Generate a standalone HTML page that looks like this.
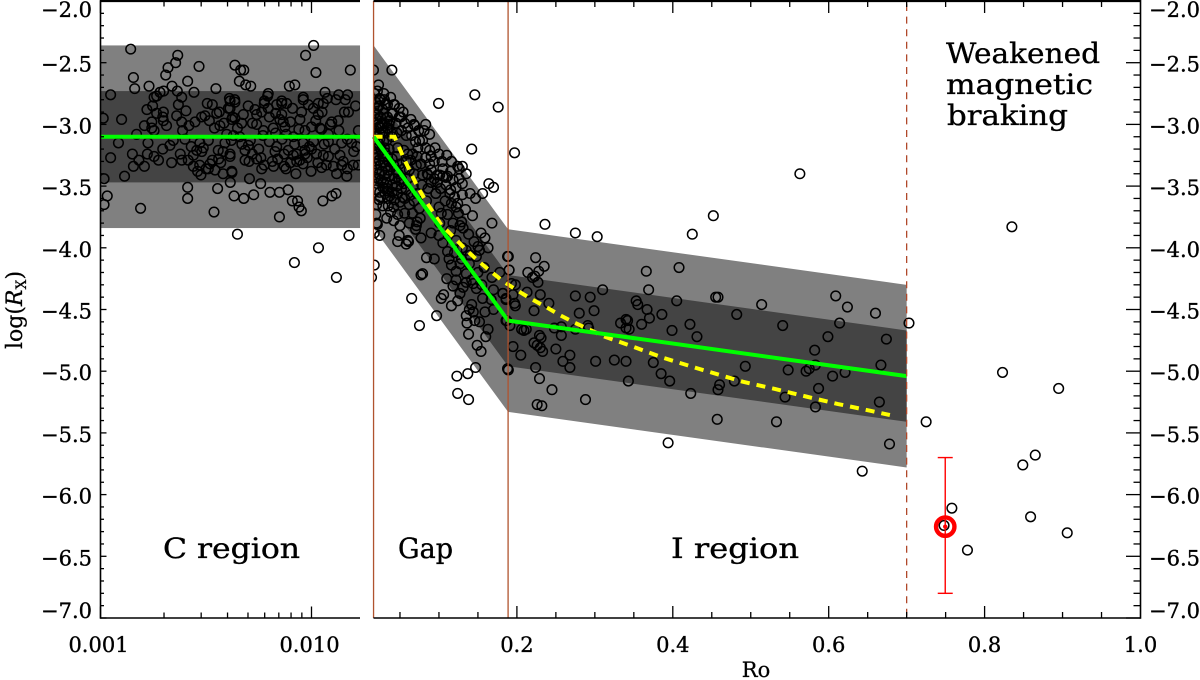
<!DOCTYPE html>
<html lang="en">
<head>
<meta charset="utf-8">
<title>log(Rx) versus Ro</title>
<style>
html,body{margin:0;padding:0;background:#fff;}
svg{display:block;}
text{font-family:"DejaVu Serif","Liberation Serif",serif;fill:#000;}
.tick{font-size:21px;stroke:#000;stroke-width:.35px;}
.note{font-size:28px;stroke:#000;stroke-width:.35px;}
</style>
</head>
<body>
<svg id="chart" xmlns="http://www.w3.org/2000/svg" width="1200" height="680" viewBox="0 0 1200 680">
  <defs>
    <clipPath id="clip-c"><rect x="100.5" y="0" width="259.5" height="618"/></clipPath>
    <clipPath id="clip-r"><rect x="373.5" y="0" width="767" height="618"/></clipPath>
  </defs>
  <g id="bands"></g>
  <g id="points-c" clip-path="url(#clip-c)"></g>
  <g id="points-r" clip-path="url(#clip-r)"></g>
  <g id="lines"></g>
  <g id="axes"></g>
  <g id="highlight"></g>
  <text class="note" x="163" y="558" textLength="137" lengthAdjust="spacingAndGlyphs">C region</text>
  <text class="note" x="398" y="558" textLength="55" lengthAdjust="spacingAndGlyphs">Gap</text>
  <text class="note" x="671" y="558" textLength="128" lengthAdjust="spacingAndGlyphs">I region</text>
  <text class="note" x="946" y="63" textLength="154" lengthAdjust="spacingAndGlyphs">Weakened</text>
  <text class="note" x="946" y="94" textLength="147" lengthAdjust="spacingAndGlyphs">magnetic</text>
  <text class="note" x="947" y="125" textLength="121" lengthAdjust="spacingAndGlyphs">braking</text>
  <text x="756" y="677" text-anchor="middle" font-size="21" stroke="#000" stroke-width=".25">Ro</text>
  <text transform="translate(22,310) rotate(-90)" text-anchor="middle" font-size="22" stroke="#000" stroke-width=".25">log(<tspan font-style="italic">R</tspan><tspan font-size="14" dy="4">X</tspan><tspan dy="-4">)</tspan></text>
</svg>
<script>
// Values. C region: [log10(Ro), log(Rx)]
const cRegionPoints = [
[-2.857,-2.39],[-2.634,-2.44],[-2.644,-2.50],[-2.68,-2.54],[-2.691,-2.60],[-2.844,-2.62],[-2.838,-2.71],[-2.77,-2.69],[-2.587,-2.65],[-2.533,-2.53],
[-2.363,-2.52],[-2.336,-2.56],[-2.321,-2.56],[-2.342,-2.65],[-2.312,-2.68],[-2.288,-2.69],[-2.453,-2.71],[-2.557,-2.74],[-2.661,-2.69],[-2.701,-2.73],
[-2.718,-2.74],[-2.734,-2.77],[-2.746,-2.78],[-2.636,-2.73],[-2.615,-2.78],[-2.952,-2.76],[-2.105,-2.69],[-2.079,-2.68],[-2.028,-2.44],[-1.99,-2.36],
[-1.979,-2.58],[-1.816,-2.56],[-1.936,-2.74],[-1.871,-2.76],[-1.829,-2.76],[-2.205,-2.75],[-2.223,-2.81],[-2.389,-2.79],[-2.364,-2.80],[-2.494,-2.83],
[-2.039,-2.78],[-2.141,-2.81],[-2.351,-3.89],[-1.967,-4.00],[-2.081,-4.12],[-1.822,-3.90],[-1.882,-4.24],[-2.81,-3.68],[-2.983,-3.65],[-2.968,-3.58],
[-2.462,-3.71],[-2.152,-3.75],[-2.587,-3.51],[-2.587,-3.60],[-2.445,-3.52],[-2.367,-3.58],[-2.321,-3.60],[-2.274,-3.57],[-2.241,-3.48],[-2.197,-3.55],
[-2.152,-3.55],[-2.111,-3.53],[-2.091,-3.62],[-2.066,-3.62],[-2.059,-3.67],[-2.048,-3.70],[-1.946,-3.62],[-1.903,-3.58],[-1.884,-3.56],[-2.385,-3.47],
[-2.294,-3.44],[-2.886,-3.42],[-2.983,-3.44],[-1.833,-3.42],[-2.002,-3.38],[-2.074,-3.40],[-1.952,-3.35],[-2.377,-3.39],[-2.419,-3.40],[-2.987,-2.95],
[-2.9,-2.96],[-2.915,-3.15],[-2.952,-3.27],[-2.849,-3.24],[-2.844,-3.34],[-2.818,-3.29],[-2.792,-3.34],[-2.78,-2.88],[-2.753,-2.85],[-2.734,-2.91],
[-2.702,-2.90],[-2.705,-2.94],[-2.702,-2.97],[-2.687,-3.01],[-2.792,-3.01],[-2.829,-3.08],[-2.757,-2.98],[-2.757,-3.03],[-2.746,-3.05],[-2.775,-3.15],
[-2.778,-3.24],[-2.746,-3.26],[-2.725,-3.29],[-2.705,-3.20],[-2.671,-3.17],[-2.655,-3.13],[-2.631,-2.84],[-2.639,-2.93],[-2.595,-2.89],[-2.615,-2.98],
[-2.581,-3.01],[-2.552,-2.98],[-2.611,-3.05],[-2.521,-2.94],[-2.505,-2.93],[-2.484,-2.97],[-2.449,-2.91],[-2.437,-2.90],[-2.434,-3.01],[-2.394,-2.87],
[-2.415,-2.99],[-2.374,-2.94],[-2.402,-3.08],[-2.37,-3.09],[-2.351,-3.03],[-2.529,-3.15],[-2.489,-3.13],[-2.513,-3.19],[-2.544,-3.21],[-2.52,-3.22],
[-2.622,-3.24],[-2.615,-3.29],[-2.663,-3.31],[-2.584,-3.29],[-2.56,-3.34],[-2.524,-3.41],[-2.489,-3.36],[-2.481,-3.32],[-2.457,-3.37],[-2.442,-3.21],
[-2.419,-3.22],[-2.386,-3.24],[-2.5,-3.36],[-2.53,-3.33],[-2.54,-3.38],[-2.47,-3.29],[-2.43,-3.31],[-2.41,-3.15],
[-2.208,-2.77],[-2.224,-2.83],[-2.165,-2.84],[-2.141,-2.83],[-2.118,-2.83],[-2.205,-2.87],[-2.236,-2.90],[-2.268,-2.88],[-2.386,-2.81],[-2.363,-2.82],
[-2.386,-2.87],[-2.323,-2.92],[-2.363,-2.95],[-2.378,-2.96],[-2.331,-2.99],[-2.141,-2.92],[-2.134,-2.98],[-2.126,-3.02],[-2.039,-2.80],[-2.015,-2.84],
[-2.047,-2.90],[-2.055,-2.96],[-1.968,-2.83],[-1.944,-2.83],[-1.991,-2.87],[-1.968,-2.92],[-1.925,-2.79],[-1.884,-2.8],[-1.84,-2.8],[-1.791,-2.85],
[-1.844,-2.90],[-1.825,-2.90],[-1.904,-2.98],[-1.873,-2.97],[-1.87,-3.05],[-1.952,-3.04],[-2.031,-3.05],[-1.778,-3.05],[-2.26,-3.00],[-2.228,-3.05],
[-2.181,-3.03],[-2.086,-3.10],[-1.92,-3.14],[-1.857,-3.15],[-1.81,-3.15],[-1.786,-3.18],[-2.386,-3.26],[-2.299,-3.17],[-2.315,-3.21],[-2.315,-3.29],
[-2.296,-3.30],[-2.378,-3.38],[-2.236,-3.36],[-2.224,-3.33],[-2.186,-3.30],[-2.173,-3.22],[-2.165,-3.18],[-2.129,-3.34],[-2.121,-3.36],[-2.031,-3.24],
[-2.055,-3.29],[-2.11,-3.21],[-2.086,-3.25],[-2.07,-3.24],[-2.031,-3.21],[-1.976,-3.24],[-1.944,-3.25],[-1.92,-3.26],[-1.865,-3.25],[-1.802,-3.33],
[-1.857,-3.33],[-1.778,-3.33],[-1.881,-3.40],[-1.897,-3.34],[-2.0,-3.20],[-2.02,-3.27],[-2.08,-3.16],[-2.14,-3.12],[-2.2,-3.14],[-2.25,-3.2],
[-2.29,-3.13],[-2.33,-3.16],[-2.15,-2.96],[-2.1,-2.98],[-2.2,-2.94],[-2.26,-2.92],[-2.09,-2.87],[-1.98,-2.97],[-1.96,-3.03],[-1.91,-3.0],
[-1.94,-3.16],[-1.99,-3.14],[-2.01,-3.18],[-1.89,-3.2],[-1.83,-3.12],[-1.8,-3.22],[-1.85,-3.3],[-1.83,-3.36],[-1.97,-3.31],[-1.93,-3.33],
[-2.04,-3.32],[-2.16,-3.28],[-2.18,-3.34],[-2.1,-3.31],[-2.07,-3.3],[-2.26,-3.28],[-2.28,-3.24],[-2.34,-3.1],
[-2.6,-3.12],[-2.57,-3.18],[-2.46,-3.03],[-2.28,-2.99],[-2.23,-3.09],[-2.17,-3.07],[-2.12,-3.08],[-2.06,-3.04],[-2.0,-3.02],[-1.92,-3.08],
[-2.47,-2.84],[-2.3,-2.85],[-2.17,-2.91],[-2.04,-3.15],[-1.95,-2.9],[-2.38,-3.13],[-2.44,-3.28],[-2.56,-3.25],[-2.13,-3.24],[-2.24,-3.27]
];
// Gap and I region: [Ro, log(Rx)]
const gapPoints = [
[.0396,-2.56],[.016,-2.56],[.0225,-2.68],[.0293,-2.75],[.0995,-2.83],[.146,-2.76],[.176,-2.86],[.142,-3.20],[.13,-3.34],[.11,-3.25],
[.116,-3.30],[.126,-3.36],[.088,-3.08],[.081,-3.05],[.069,-3.01],[.064,-2.96],[.054,-2.90],[.049,-2.94],[.043,-2.84],[.032,-2.83],
[.041,-2.91],[.024,-2.79],[.017,-2.75],[.079,-3.13],[.075,-3.13],[.07,-3.14],[.088,-3.21],[.09,-3.26],[.094,-3.30],[.088,-3.32],
[.101,-3.41],[.109,-3.43],[.118,-3.45],[.122,-3.51],[.13,-3.48],[.164,-3.48],[.17,-3.51],[.156,-3.56],[.147,-3.60],[.134,-3.69],
[.168,-3.80],[.124,-3.64],[.114,-3.56],[.116,-3.64],[.096,-3.56],[.098,-3.47],[.086,-3.41],[.103,-3.72],[.111,-3.73],[.101,-3.80],
[.129,-3.79],[.131,-3.84],[.154,-3.88],[.159,-3.92],[.118,-3.80],[.09,-3.88],[.049,-3.90],[.06,-3.94],[.024,-3.90],[.021,-3.81],
[.047,-3.95],[.061,-3.95],[.071,-3.82],[.077,-3.92],[.1,-3.90],[.017,-4.14],[.0135,-4.24],
[.084,-4.08],[.094,-4.09],[.065,-4.41],[.075,-4.63],[.077,-4.22],[.079,-4.21],[.103,-4.41],[.106,-4.38],[.116,-4.47],[.124,-4.43],
[.097,-4.55],[.135,-4.55],[.139,-4.50],[.144,-4.52],[.146,-4.59],[.136,-4.61],[.152,-4.60],[.163,-4.66],[.138,-4.70],[.159,-4.52],
[.142,-4.46],[.156,-4.41],[.167,-4.42],[.149,-4.79],[.154,-4.84],[.147,-4.97],[.137,-5.02],[.123,-5.04],[.124,-5.18],[.138,-5.23],
[.189,-4.99],[.189,-4.07],[.19,-4.18],[.163,-4.00],[.15,-3.99],[.111,-4.03],[.113,-4.09],[.116,-4.14],[.122,-4.19],[.122,-4.26],
[.131,-4.32],[.135,-4.28],[.144,-4.29],[.148,-4.33],[.127,-4.13],[.135,-4.21],[.127,-3.82],[.182,-4.37],[.17,-4.34],[.186,-4.41],
[.187,-4.59],[.122,-3.94],[.135,-4.02],[.148,-4.07],[.152,-4.02],[.139,-4.13],
[.021,-2.73],[.025,-2.80],[.019,-2.82],[.042,-2.84],[.051,-2.94],[.049,-2.87],[.068,-3.00],[.034,-2.84],[.04,-2.91],[.045,-2.99],
[.034,-2.94],[.028,-2.88],[.021,-2.87],[.018,-2.91],[.02,-2.96],[.025,-2.94],[.03,-2.99],[.023,-3.02],[.018,-3.05],[.021,-3.09],
[.028,-3.06],[.034,-3.03],[.038,-3.06],[.018,-3.15],[.023,-3.18],[.03,-3.19],[.021,-3.24],[.028,-3.26],[.034,-3.26],[.019,-3.32],
[.025,-3.33],[.032,-3.34],[.038,-3.34],[.045,-3.37],[.023,-3.40],[.03,-3.41],[.036,-3.42],[.043,-3.44],[.049,-3.45],[.055,-3.48],
[.021,-3.48],[.028,-3.51],[.034,-3.52],[.04,-3.55],[.047,-3.56],[.053,-3.59],[.062,-3.65],[.025,-3.59],[.034,-3.60],[.043,-3.61],
[.023,-3.61],[.038,-3.71],[.047,-3.73],[.019,-3.73],[.02,-3.80],[.017,-3.88],[.058,-3.97],[.07,-3.85],[.072,-3.79],
[.047,-3.19],[.055,-3.21],[.06,-3.24],[.066,-3.24],[.072,-3.26],[.064,-3.29],
[.077,-3.32],[.058,-3.30],[.062,-3.37],[.068,-3.40],[.079,-3.41],[.085,-3.40],[.094,-3.44],[.098,-3.41],[.105,-3.42],[.111,-3.42],
[.124,-3.34],[.102,-3.52],[.109,-3.49],[.115,-3.53],[.096,-3.56],[.12,-3.59],[.122,-3.67],
[.017,-2.98],[.022,-3.0],[.026,-3.03],[.031,-3.07],[.019,-3.1],[.024,-3.12],[.033,-3.13],[.017,-3.2],[.026,-3.21],[.031,-3.23],
[.018,-3.27],[.023,-3.29],[.029,-3.31],[.036,-3.2],[.04,-3.28],[.042,-3.33],[.035,-3.37],[.027,-3.38],[.02,-3.37],[.018,-3.43],
[.026,-3.45],[.033,-3.47],[.04,-3.49],[.046,-3.5],[.052,-3.52],[.019,-3.53],[.024,-3.55],[.031,-3.56],[.037,-3.58],[.02,-3.65],
[.028,-3.66],[.035,-3.66],[.042,-3.67],[.05,-3.63],[.056,-3.6],[.027,-3.0],[.036,-3.0],[.04,-3.1],[.029,-2.91],[.037,-2.97],
[.06,-3.44],[.067,-3.5],[.072,-3.56],[.064,-3.57],[.058,-3.53],[.052,-3.44],[.048,-3.4],[.05,-3.32],[.055,-3.36],[.046,-3.26],
[.023,-2.85],[.021,-2.92],[.024,-3.07],[.022,-3.15],[.029,-3.14],[.027,-3.24],[.035,-3.3],[.022,-3.44],[.029,-3.47],[.034,-3.54],
[.03,-2.8],[.038,-2.78],[.056,-2.99],[.06,-3.03],[.052,-3.05],[.046,-3.07],[.058,-3.09],[.065,-3.09],[.074,-3.05],[.083,-3.0],
[.073,-3.19],[.083,-3.19],[.095,-3.19],[.1,-3.24],[.104,-3.3],[.083,-3.27],[.071,-3.33],[.09,-3.37],[.105,-3.36],[.115,-3.38],
[.078,-3.49],[.086,-3.52],[.09,-3.47],[.126,-3.44],[.135,-3.4],[.14,-3.56],[.13,-3.57],[.108,-3.62],[.1,-3.67],[.125,-3.72],
[.143,-3.74],[.115,-3.86],[.138,-3.89],[.145,-3.95],[.13,-4.0],[.105,-3.96],[.12,-4.04],[.14,-4.06],[.129,-4.09],[.158,-4.16],
[.15,-4.2],[.142,-4.26],[.127,-4.37],[.118,-4.31],[.11,-4.25],[.168,-4.24],[.155,-4.3],[.17,-4.5],[.16,-4.72],[.178,-4.2],
[.066,-3.72],[.075,-3.68],[.084,-3.62],[.068,-3.62],[.076,-3.76],[.062,-3.8],[.056,-3.72],[.05,-3.82],[.042,-3.78],[.033,-3.76]
];
const iRegionPoints = [
[.197,-3.23],[.236,-3.81],[.275,-3.88],[.303,-3.91],[.425,-3.89],[.452,-3.74],[.188,-4.07],[.19,-4.18],[.224,-4.08],[.235,-4.15],
[.214,-4.20],[.228,-4.19],[.223,-4.23],[.22,-4.24],[.227,-4.28],[.198,-4.30],[.193,-4.29],[.182,-4.37],[.195,-4.38],[.186,-4.42],
[.213,-4.36],[.23,-4.38],[.241,-4.45],[.197,-4.45],[.198,-4.47],[.222,-4.51],[.275,-4.39],[.294,-4.40],[.31,-4.34],[.299,-4.51],
[.28,-4.53],[.366,-4.19],[.369,-4.34],[.408,-4.16],[.405,-4.43],[.353,-4.43],[.355,-4.46],[.367,-4.50],[.37,-4.57],[.386,-4.54],
[.36,-4.62],[.34,-4.58],[.342,-4.59],[.333,-4.61],[.34,-4.65],[.344,-4.66],[.399,-4.67],[.422,-4.62],[.431,-4.72],[.455,-4.40],
[.458,-4.40],[.186,-4.59],[.191,-4.63],[.206,-4.66],[.209,-4.67],[.212,-4.66],[.229,-4.71],[.257,-4.64],[.257,-4.71],[.248,-4.65],
[.275,-4.66],[.291,-4.63],[.292,-4.65],[.231,-4.73],[.222,-4.77],[.226,-4.79],[.23,-4.81],[.233,-4.84],[.195,-4.80],[.205,-4.87],
[.25,-4.82],[.268,-4.87],[.259,-4.92],[.268,-4.97],[.301,-4.92],[.325,-4.91],[.34,-4.92],[.375,-4.93],[.385,-5.02],[.396,-5.08],
[.343,-5.08],[.224,-4.97],[.188,-4.98],[.229,-5.06],[.245,-5.15],[.288,-5.23],[.226,-5.27],[.232,-5.28],[.423,-5.18],[.457,-5.39],
[.46,-5.11],[.458,-5.15],[.394,-5.58],[.482,-4.54],[.514,-4.46],[.609,-4.39],[.624,-4.48],[.66,-4.53],[.703,-4.61],[.614,-4.61],
[.541,-4.63],[.599,-4.72],[.674,-4.74],[.582,-4.83],[.493,-4.96],[.548,-4.99],[.571,-5.00],[.575,-4.98],[.583,-4.95],[.605,-5.04],
[.621,-5.01],[.667,-4.95],[.479,-5.08],[.587,-5.14],[.544,-5.21],[.583,-5.29],[.665,-5.25],[.533,-5.41],[.678,-5.59],[.643,-5.81],
[.563,-3.40]
];
const weakenedPoints = [
[.725,-5.41],[.758,-6.11],[.748,-6.25],[.778,-6.45],[.849,-5.76],[.865,-5.68],[.859,-6.18],[.906,-6.31],[.835,-3.83],[.823,-5.01],[.895,-5.14]
];
// Broken-line model
const cFitLevel = -3.10;
const cFitStartLog = -3;
const cFitEndLog = -1.77;
const modelRo = [.0161, .1887, .70];
const modelLog = [-3.10, -4.59, -5.04];
const bandWidths = [.74, .37];
const bandColors = ['#808080', '#444444'];
// Dashed curve
const curveRo = [.0161,.043,.056,.0725,.0837,.103,.12,.135,.15,.167,.182,.199,.2185,.238,.255,.274,.3126,.3485,.387,.43,.4897,.531,.5715,.612,.653,.6785];
const curveLog = [-3.10,-3.10,-3.29,-3.505,-3.626,-3.815,-3.92,-4.018,-4.105,-4.194,-4.27,-4.34,-4.415,-4.482,-4.545,-4.607,-4.72,-4.80,-4.89,-4.974,-5.085,-5.144,-5.206,-5.266,-5.32,-5.355];
// Region boundaries
const solidRegionRo = [.0161, .1887];
const dashedRegionRo = .70;
// Highlighted star
const starRo = .7495;
const starLog = -6.26;
const starLow = -6.80;
const starHigh = -5.70;
// Ticks
const yMajorValues = [-2,-2.5,-3,-3.5,-4,-4.5,-5,-5.5,-6,-6.5,-7];
const yMajorLabels = ['\u22122.0','\u22122.5','\u22123.0','\u22123.5','\u22124.0','\u22124.5','\u22125.0','\u22125.5','\u22126.0','\u22126.5','\u22127.0'];
const cMajorValues = [.001,.01];
const cMajorLabels = ['0.001','0.010'];
const cMinorValues = [.002,.003,.004,.005,.006,.007,.008,.009];
const roMajorValues = [.2,.4,.6,.8,1];
const roMajorLabels = ['0.2','0.4','0.6','0.8','1.0'];
const roMinorValues = [.05,.1,.15,.25,.3,.35,.45,.5,.55,.65,.7,.75,.85,.9,.95];

const SVGNS = 'http://www.w3.org/2000/svg';
const yPx = v => 1 + (-2 - v) * 123.4;
const xC = l => 100.5 + (l + 3) * 211;
const xR = r => 361 + 779.5 * r;
const make = (parent, tag, attrs) => {
  const el = document.createElementNS(SVGNS, tag);
  for (const k in attrs) el.setAttribute(k, attrs[k]);
  parent.appendChild(el);
  return el;
};
const bandsG = document.getElementById('bands');
const pcG = document.getElementById('points-c');
const prG = document.getElementById('points-r');
const linesG = document.getElementById('lines');
const axesG = document.getElementById('axes');
const hiG = document.getElementById('highlight');

// Bands
bandWidths.forEach((w, i) => {
  const cBand = make(bandsG, 'rect', {x: xC(cFitStartLog), y: yPx(cFitLevel + w), width: xC(cFitEndLog) - xC(cFitStartLog), height: yPx(cFitLevel - w) - yPx(cFitLevel + w), fill: bandColors[i]});
  
  
  const upper = modelRo.map((r, j) => xR(r) + ',' + yPx(modelLog[j] + w));
  const lower = modelRo.map((r, j) => xR(r) + ',' + yPx(modelLog[j] - w)).reverse();
  const band = make(bandsG, 'polygon', {points: upper.concat(lower).join(' '), fill: bandColors[i]});
  
  
});

// Scatter
const circleStyle = {r: 4.8, fill: 'none', stroke: '#000', 'stroke-width': 1.5};
cRegionPoints.forEach(p => {
  const c = make(pcG, 'circle', Object.assign({cx: xC(p[0]), cy: yPx(p[1])}, circleStyle));
  
  
});
gapPoints.concat(iRegionPoints, weakenedPoints).forEach(p => {
  const c = make(prG, 'circle', Object.assign({cx: xR(p[0]), cy: yPx(p[1])}, circleStyle));
  
  
});

// Lines
const curve = make(linesG, 'polyline', {points: curveRo.map((r, i) => xR(r) + ',' + yPx(curveLog[i])).join(' '), fill: 'none', stroke: '#ffff00', 'stroke-width': 4, 'stroke-dasharray': '9 7'});


const cFit = make(linesG, 'line', {x1: xC(cFitStartLog), x2: xC(cFitEndLog), y1: yPx(cFitLevel), y2: yPx(cFitLevel), stroke: '#00ff00', 'stroke-width': 4});


const fit = make(linesG, 'polyline', {points: modelRo.map((r, i) => xR(r) + ',' + yPx(modelLog[i])).join(' '), fill: 'none', stroke: '#00ff00', 'stroke-width': 4, 'stroke-linejoin': 'miter'});


solidRegionRo.forEach(r => {
  const v = make(linesG, 'line', {x1: xR(r), x2: xR(r), y1: 1, y2: 618, stroke: '#b0532e', 'stroke-width': 1.3});
  
  
});
const dashed = make(linesG, 'line', {x1: xR(dashedRegionRo), x2: xR(dashedRegionRo), y1: 4, y2: 618, stroke: '#b0482a', 'stroke-width': 1.3, 'stroke-dasharray': '7 5.6'});



// Axes
const axisLine = (x1, y1, x2, y2, w) => {
  const a = make(axesG, 'line', {x1, y1, x2, y2, stroke: '#000', 'stroke-width': w});
  
  
};
const tickMark = (x1, y1, x2, y2) => {
  const t = make(axesG, 'line', {x1, y1, x2, y2, stroke: '#000', 'stroke-width': 1.3});
  
  
};
const tickText = (x, y, anchor, str) => {
  const t = make(axesG, 'text', {x, y, 'text-anchor': anchor, class: 'tick'});
  t.textContent = str;
  
  
};
const LEFT = 100.5, CEND = 360, RSTART = 373.5, RIGHT = 1140.5, TOP = 1, BOTTOM = 618;
axisLine(LEFT, 0, LEFT, BOTTOM + .8, 1.6);
axisLine(LEFT, TOP, CEND, TOP, 2.2);
axisLine(LEFT, BOTTOM, CEND, BOTTOM, 1.6);
axisLine(RSTART, TOP, RIGHT, TOP, 2.2);
axisLine(RSTART, BOTTOM, RIGHT, BOTTOM, 1.6);
axisLine(RIGHT, 0, RIGHT, BOTTOM + .8, 1.6);

// y ticks: major values plus four minors between neighbouring majors
yMajorValues.forEach((v, i) => {
  tickMark(LEFT, yPx(v), LEFT + 6, yPx(v));
  tickMark(RIGHT, yPx(v), RIGHT - 14.5, yPx(v));
  const base = i === 0 ? 17 : i === yMajorValues.length - 1 ? 618 : yPx(v) + 9;
  tickText(92, base, 'end', yMajorLabels[i]);
  tickText(1149, base, 'start', yMajorLabels[i]);
  if (i < yMajorValues.length - 1) {
    for (let k = 1; k <= 4; k++) {
      const m = v - k * .1;
      tickMark(LEFT, yPx(m), LEFT + 3.5, yPx(m));
      tickMark(RIGHT, yPx(m), RIGHT - 7, yPx(m));
    }
  }
});
// x ticks
cMajorValues.forEach((v, i) => {
  const x = xC(Math.log10(v));
  tickMark(x, BOTTOM, x, BOTTOM - 11.5);
  tickMark(x, TOP, x, TOP + 12);
  tickText(x - 2, 652, 'middle', cMajorLabels[i]);
});
cMinorValues.forEach(v => {
  const x = xC(Math.log10(v));
  tickMark(x, BOTTOM, x, BOTTOM - 5.5);
  tickMark(x, TOP, x, TOP + 5.5);
});
roMajorValues.forEach((v, i) => {
  const x = xR(v);
  if (v < 1) {
    tickMark(x, BOTTOM, x, BOTTOM - 12);
    tickMark(x, TOP, x, TOP + 12);
  }
  tickText(x, 652, 'middle', roMajorLabels[i]);
});
roMinorValues.forEach(v => {
  const x = xR(v);
  tickMark(x, BOTTOM, x, BOTTOM - 6);
  tickMark(x, TOP, x, TOP + 6);
});

// Highlighted star with error bar
const sx = xR(starRo), sy = yPx(starLog);
const eb = make(hiG, 'line', {x1: sx, x2: sx, y1: yPx(starHigh), y2: yPx(starLow), stroke: '#ff0000', 'stroke-width': 1.4});


[starHigh, starLow].forEach(v => {
  const cap = make(hiG, 'line', {x1: sx - 7.5, x2: sx + 7.5, y1: yPx(v), y2: yPx(v), stroke: '#ff0000', 'stroke-width': 1.4});
  
  
});
const ring = make(hiG, 'circle', {cx: sx, cy: sy, r: 9.2, fill: 'none', stroke: '#ff0000', 'stroke-width': 4.4});


const dot = make(hiG, 'circle', {cx: sx, cy: sy, r: 2.2, fill: '#ff0000'});


</script>
</body>
</html>
